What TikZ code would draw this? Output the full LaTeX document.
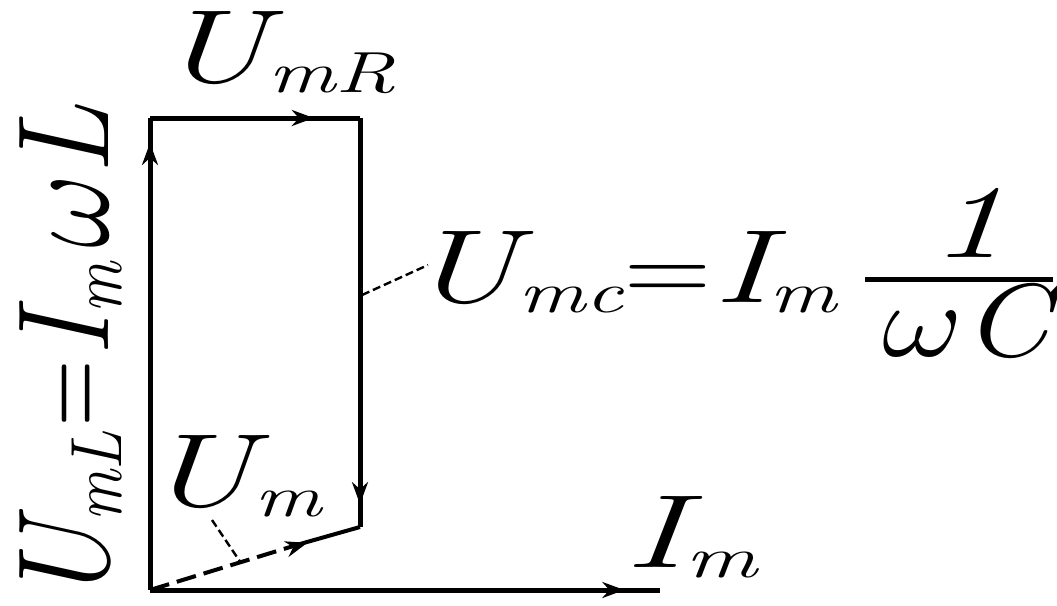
\RequirePackage{fix-cm}
\documentclass[tikz,border=0pt]{standalone}
\usetikzlibrary{arrows.meta,decorations.markings,calc}
\newcommand\bigf{\fontsize{52}{60}\selectfont\itshape}
\newcommand\subf{\fontsize{29}{32}\selectfont\itshape}
\newcommand\subx[1]{\raisebox{-0.1em}{\subf #1}}
\newcommand\eqx{\kern0.04em\scalebox{0.8}[1]{\upshape=}\kern0.04em}
\newcommand\eqy{\kern0.01em\scalebox{0.8}[1]{\upshape=}\kern0.01em}
\newcommand\hstr[1]{\scalebox{1.45}[1]{#1}}
\newcommand\vstr[1]{\scalebox{1.1}[1.25]{#1}}
\tikzset{
  vec/.style={line width=2.5pt},
  arrat/.style={postaction={decorate},decoration={markings,mark=at position #1 with {\arrow{Stealth[length=11pt,width=8pt]}}}},
  lbl/.style={inner sep=0pt,text=black},
  leader/.style={line width=1.2pt,dash pattern=on 4pt off 2pt},
}
\begin{document}
\begin{tikzpicture}[x=0.5pt,y=-0.5pt]
\useasboundingbox (0,0) rectangle (1057,606);
\coordinate (O) at (150,590);
\coordinate (A) at (150,118);
\coordinate (B) at (360,118);
\coordinate (C) at (360,527);
\coordinate (D) at (660,590);
\coordinate (Mid) at (300,544);
% vectors
\draw[vec,arrat=0.947] (O) -- (A);
\draw[vec,arrat=0.78] (A) -- (B);
\draw[vec,arrat=0.944] (B) -- (C);
\draw[vec,arrat=0.93] (O) -- (D);
\draw[vec,line width=2pt,dash pattern=on 10pt off 4pt] (O) -- (Mid);
\draw[vec,line width=2pt] (Mid) -- (C);
\draw[-{Stealth[length=11pt,width=8pt]},line width=2pt] ($(O)!0.7!(C)$) -- ($(O)!0.75!(C)$);
% labels
\node[lbl,anchor=base west] (umr) at (158,82) {\hstr{\bigf U\subx{mR}}};
\node[lbl,anchor=base west] (um) at (144,506) {\hstr{\bigf U\subx{m}}};
\node[lbl,anchor=base west] (im) at (624,567) {\scalebox{1.55}[1]{\bigf I\subx{m}}};
\node[lbl,anchor=base west,rotate=90] (uml) at (108,605) {\vstr{\bigf U\subx{mL}\eqx I\subx{m}\kern0.12em$\omega$L}};
\node[lbl,anchor=base west] (umc) at (408,302) {\hstr{\bigf U\subx{mc}\eqy I\subx{m}}};
\node[lbl,anchor=base] (one) at (968,257) {\hstr{\bigf 1}};
\node[lbl,anchor=base] (wc) at (966,356) {\scalebox{1.2}[1]{\bigf $\omega$C}};
\draw[line width=2.5pt] (865,279) -- (1053,279);
% leaders
\coordinate (Lc) at (362,295);
\coordinate (Lc2) at (428,265);
\draw[leader] (Lc) -- (Lc2);
\coordinate (Lm) at (212,520);
\coordinate (Lv) at (241,563);
\draw[leader] (Lm) -- (Lv);
\end{tikzpicture}
\end{document}
